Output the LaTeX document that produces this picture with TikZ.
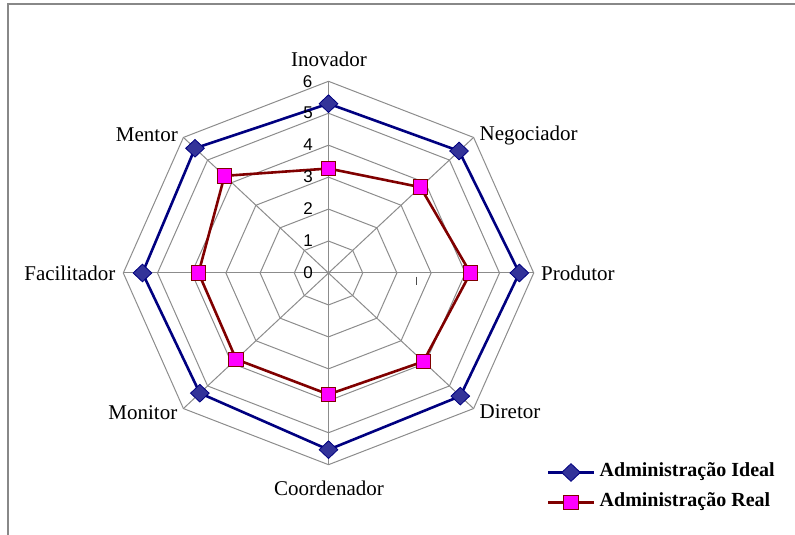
\documentclass[tikz,border=0pt]{standalone}
\usepackage{fontspec}
\setmainfont{Liberation Serif}
\newfontfamily\digitfont{Liberation Sans}
\usetikzlibrary{shapes.geometric}
\definecolor{gridgray}{HTML}{8C8C8C}
\definecolor{framegray}{HTML}{888888}
\definecolor{idealline}{HTML}{000080}
\definecolor{idealfill}{HTML}{333399}
\definecolor{realline}{HTML}{800000}
\definecolor{realfill}{HTML}{FF00FF}
\tikzset{
  gridline/.style={draw=gridgray, line width=1pt},
  idealpath/.style={draw=idealline, line width=2.6pt, line join=miter},
  realpath/.style={draw=realline, line width=2.6pt, line join=miter},
  idealmark/.style={diamond, draw=idealline, fill=idealfill, line width=0.8pt, minimum width=19pt, minimum height=18pt, inner sep=0pt},
  realmark/.style={rectangle, draw=realline, fill=realfill, line width=0.8pt, minimum width=14.5pt, minimum height=14.5pt, inner sep=0pt},
  axlabel/.style={font=\fontsize{21}{25}\selectfont, inner sep=0pt},
  numlabel/.style={font=\digitfont\fontsize{17}{20}\selectfont, inner sep=0pt},
  legtext/.style={font=\bfseries\fontsize{20}{23}\selectfont, inner sep=0pt, anchor=west},
}
\begin{document}
\begin{tikzpicture}[x=1pt,y=1pt]
\useasboundingbox (0,0) rectangle (795,535);
% frame
\draw[framegray, line width=2pt] (7.5,0) -- (7.5,530.5) -- (795,530.5);
% chart
\begin{scope}[shift={(328.5,262)}, x=34.2pt, y=31.95pt]
  \foreach \k in {1,...,6} {
    \draw[gridline] (90:\k) -- (45:\k) -- (0:\k) -- (-45:\k) -- (-90:\k) -- (-135:\k) -- (180:\k) -- (135:\k) -- cycle;
  }
  \foreach \a in {90,45,0,-45,-90,-135,180,135} {
    \draw[gridline] (0,0) -- (\a:6);
  }
  % ideal points
  \coordinate (I1) at (90:5.3);
  \coordinate (I2) at (45:5.4);
  \coordinate (I3) at (0:5.58);
  \coordinate (I4) at (-45:5.45);
  \coordinate (I5) at (-90:5.53);
  \coordinate (I6) at (-135:5.32);
  \coordinate (I7) at (180:5.44);
  \coordinate (I8) at (135:5.52);
  % real points
  \coordinate (R1) at (90:3.27);
  \coordinate (R2) at (45:3.8);
  \coordinate (R3) at (0:4.15);
  \coordinate (R4) at (-45:3.92);
  \coordinate (R5) at (-90:3.8);
  \coordinate (R6) at (-135:3.82);
  \coordinate (R7) at (180:3.8);
  \coordinate (R8) at (135:4.3);
\end{scope}
\draw[realpath] (R1) -- (R2) -- (R3) -- (R4) -- (R5) -- (R6) -- (R7) -- (R8) -- cycle;
\draw[idealpath] (I1) -- (I2) -- (I3) -- (I4) -- (I5) -- (I6) -- (I7) -- (I8) -- cycle;
\foreach \i in {1,...,8} {
  \node[realmark] (mR\i) at (R\i) {};
  \node[idealmark] (mI\i) at (I\i) {};
}
% scale numbers
\node[numlabel] (n0) at (308,262) {0};
\node[numlabel] (n1) at (308,294) {1};
\node[numlabel] (n2) at (308,326) {2};
\node[numlabel] (n3) at (308,358) {3};
\node[numlabel] (n4) at (308,390) {4};
\node[numlabel] (n5) at (308,422) {5};
\node[numlabel] (n6) at (307.5,453.5) {6};
% stray tick
\draw[black!70, line width=0.8pt] (416.7,258.3) -- (416.7,250);
% axis labels
\node[axlabel] (lInov) at (329,476) {Inovador};
\node[axlabel, anchor=west] (lNeg) at (479.5,400) {Negociador};
\node[axlabel, anchor=west] (lProd) at (541,262) {Produtor};
\node[axlabel, anchor=west] (lDir) at (479.5,123) {Diretor};
\node[axlabel] (lCoord) at (329,47) {Coordenador};
\node[axlabel, anchor=east] (lMon) at (177.5,122) {Monitor};
\node[axlabel, anchor=east] (lFac) at (115.5,262) {Facilitador};
\node[axlabel, anchor=east] (lMen) at (178,400) {Mentor};
% legend
\coordinate (a1) at (548,62.5);
\coordinate (b1) at (593.5,62.5);
\coordinate (a2) at (548,32.5);
\coordinate (b2) at (593.5,32.5);
\draw[idealpath] (a1) -- (b1);
\node[idealmark] (legI) at (571,62.5) {};
\draw[realpath] (a2) -- (b2);
\node[realmark] (legR) at (571,32.5) {};
\node[legtext] (tI) at (599.5,63) {Administração Ideal};
\node[legtext] (tR) at (599.5,33) {Administração Real};
\end{tikzpicture}
\end{document}
